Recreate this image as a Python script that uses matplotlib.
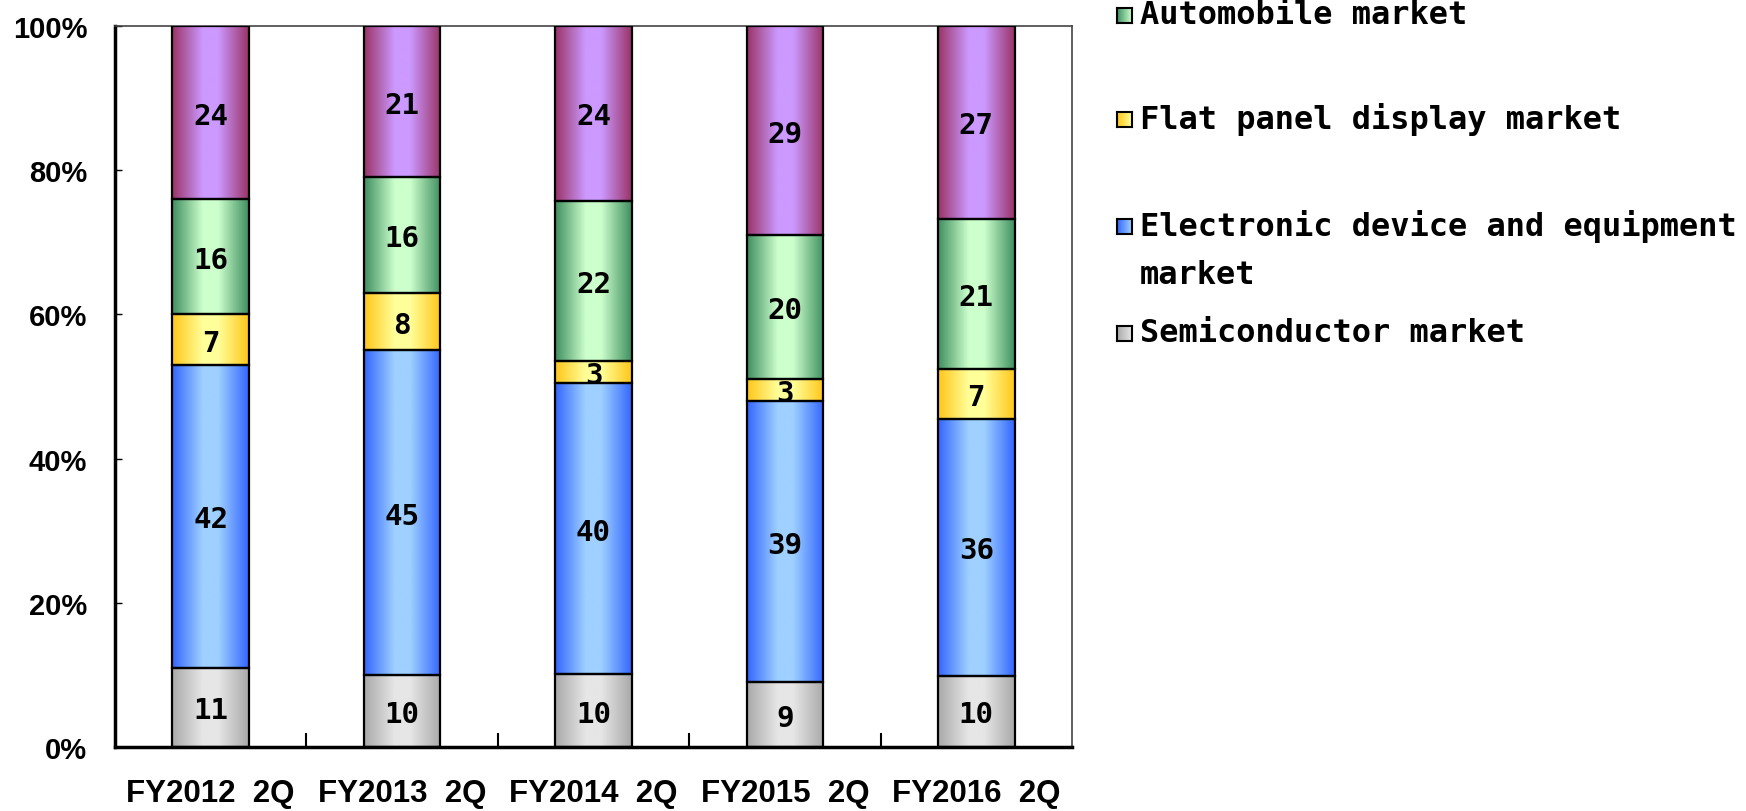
import numpy as np
import matplotlib
matplotlib.use("Agg")
import matplotlib.pyplot as plt
from matplotlib.colors import LinearSegmentedColormap

# market share by fiscal year (%), stacked bottom to top
fiscal_years = ["FY2012", "FY2013", "FY2014", "FY2015", "FY2016"]
period = "2Q"

semiconductor = [11, 10, 10, 9, 10]
electronic = [42, 45, 40, 39, 36]
flat_panel = [7, 8, 3, 3, 7]
automobile = [16, 16, 22, 20, 21]
other = [24, 21, 24, 29, 27]

legend_labels = ["Automobile market", "Flat panel display market",
                 "Electronic device and equipment\nmarket", "Semiconductor market"]

# (edge colour, centre colour) for the cylinder-like shading
shades = {
    "semiconductor": ("#a9a9a9", "#e6e6e6"),
    "electronic": ("#3366ff", "#9fd0ff"),
    "flat_panel": ("#ffc61a", "#ffff99"),
    "automobile": ("#3f8f60", "#ccffcc"),
    "other": ("#993366", "#cc99ff"),
}
series = [("semiconductor", semiconductor), ("electronic", electronic),
          ("flat_panel", flat_panel), ("automobile", automobile), ("other", other)]

t = np.linspace(0, 1, 200)
grad = np.interp(t, [0, 0.4, 0.6, 1], [0.0, 1.0, 1.0, 0.0])[None, :]

fig = plt.figure(figsize=(17.46, 8.12), dpi=100)
ax = fig.add_axes([115 / 1746, 1 - 748 / 812, (1072 - 115) / 1746, (748 - 27) / 812])

x = np.arange(len(fiscal_years))
totals = np.sum([v for _, v in series], axis=0)
bottom = np.zeros(len(x))
for key, vals in series:
    share = np.array(vals) / totals * 100
    rects = ax.bar(x, share, 0.4, bottom=bottom, facecolor="none",
                   edgecolor="black", linewidth=1.6, zorder=3)
    cmap = LinearSegmentedColormap.from_list(key, list(shades[key]))
    for rect, v in zip(rects, vals):
        x0, y0 = rect.get_xy()
        w, h = rect.get_width(), rect.get_height()
        im = ax.imshow(grad, cmap=cmap, vmin=0, vmax=1, aspect="auto",
                       extent=[x0, x0 + w, y0, y0 + h], interpolation="bilinear", zorder=2)
        im.set_clip_path(rect)
        ax.text(x0 + w / 2, y0 + h / 2, str(v), ha="center", va="center_baseline",
                fontsize=21, fontweight="bold", family="DejaVu Sans Mono", zorder=4)
    bottom += share

ax.set_xlim(-0.5, len(x) - 0.5)
ax.set_ylim(0, 100)

ax.set_xticks(x)
ax.set_xticklabels([f"{fy}  {period}" for fy in fiscal_years],
                   fontsize=22.5, fontweight="bold", family="Liberation Sans")
ax.set_xticks(np.arange(0.5, len(x) - 0.5, 1), minor=True)
ax.tick_params(axis="x", which="major", length=0, pad=22)
ax.tick_params(axis="x", which="minor", direction="in", length=10, width=1.5)

ax.set_yticks(np.arange(0, 101, 20))
ax.set_yticklabels([f"{v}%" for v in range(0, 101, 20)], fontsize=21,
                   fontweight="bold", family="Liberation Sans")
ax.tick_params(axis="y", direction="in", length=5, width=1, pad=20)

for side in ("left", "bottom"):
    ax.spines[side].set_linewidth(2.5)
    ax.spines[side].set_color("black")
for side in ("top", "right"):
    ax.spines[side].set_linewidth(1.2)
    ax.spines[side].set_color("#444444")

# legend drawn by hand, top entry runs off the canvas edge
legend_keys = ["automobile", "flat_panel", "electronic", "semiconductor"]
legend_y = [16, 120, 227, 334]
W, H = 1746, 812
for key, label, yc in zip(legend_keys, legend_labels, legend_y):
    sw = fig.add_axes([1117 / W, 1 - (yc + 8) / H, 15 / W, 15 / H])
    sw.imshow(np.linspace(0, 1, 50)[None, :], cmap=LinearSegmentedColormap.from_list(
        key + "_sw", list(shades[key])), aspect="auto")
    sw.set_xticks([])
    sw.set_yticks([])
    for s in sw.spines.values():
        s.set_linewidth(1.5)
    lines = label.split("\n")
    fig.text(1140 / W, 1 - yc / H, lines[0], fontsize=23,
             fontweight="bold", family="DejaVu Sans Mono", va="center", ha="left")
    if len(lines) > 1:
        fig.text(1140 / W, 1 - (yc + 48) / H, lines[1], fontsize=23,
                 fontweight="bold", family="DejaVu Sans Mono", va="center", ha="left")

fig.savefig("out.png", dpi=100)
